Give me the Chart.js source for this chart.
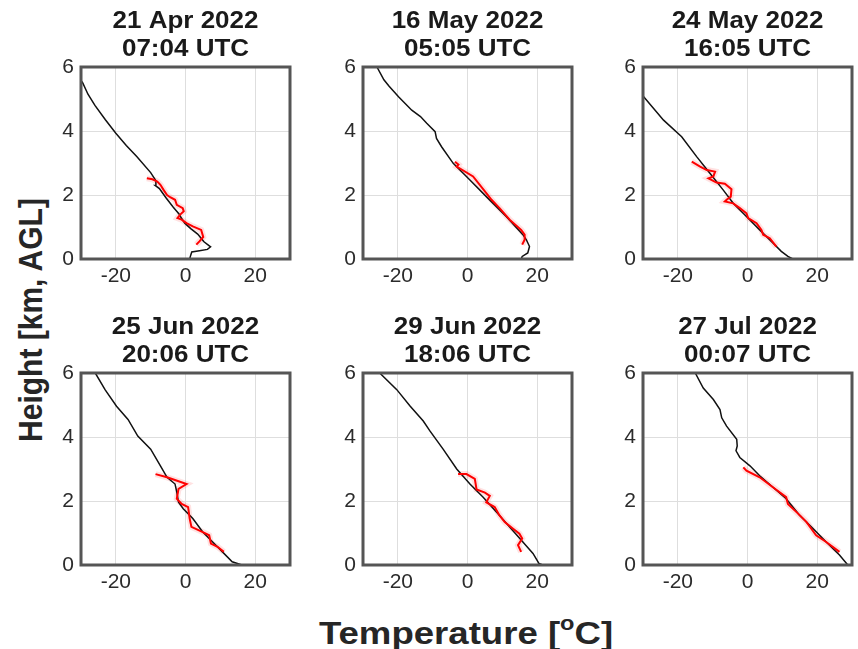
<!DOCTYPE html>
<html>
<head>
<meta charset="utf-8">
<script src="https://cdn.jsdelivr.net/npm/chart.js@4"></script>
<style>
  body { margin: 0; background: #fff; width: 858px; height: 649px; overflow: hidden; position: relative; font-family: 'Liberation Sans', Arial, sans-serif; }
  canvas { position: absolute; }
  .ylab { position: absolute; left: 31px; top: 320px; transform: translate(-50%, -50%) rotate(-90deg) scaleY(1.12); font-weight: bold; font-size: 30px; color: #262626; white-space: nowrap; }
  .xlab { position: absolute; left: 466px; top: 632px; transform: translate(-50%, -50%) scaleX(1.18); font-weight: bold; font-size: 31px; color: #262626; white-space: nowrap; }
  .xlab sup { font-size: 20px; vertical-align: 14px; }
</style>
</head>
<body>
<div class="ylab">Height [km, AGL]</div>
<div class="xlab">Temperature [<sup>o</sup>C]</div>
<script>
// panel titles
const dates = ['21 Apr 2022', '16 May 2022', '24 May 2022', '25 Jun 2022', '29 Jun 2022', '27 Jul 2022'];
const times = ['07:04 UTC', '05:05 UTC', '16:05 UTC', '20:06 UTC', '18:06 UTC', '00:07 UTC'];

// axis ticks
const xTicks = [-20, 0, 20];
const yTicks = [0, 2, 4, 6];

// radiosonde (black) and lidar (red) profiles, temperature [C] vs height [km]
const sondeT1 = [1.2, 1.5, 1.8, 4.0, 6.3, 7.2, 5.3, 3.5, 1.5, -0.2, -1.2, -1.8, -3.5, -5.5, -7.5, -8.7, -8.5, -10.0, -14.0, -17.0, -20.0, -23.0, -26.0, -28.0, -29.5, -30.5];
const sondeH1 = [0.0, 0.12, 0.22, 0.26, 0.3, 0.38, 0.54, 0.78, 0.95, 1.12, 1.28, 1.4, 1.62, 1.9, 2.2, 2.3, 2.45, 2.7, 3.2, 3.55, 3.93, 4.35, 4.8, 5.15, 5.5, 5.65];
const lidarT1 = [3.1, 4.0, 5.1, 4.5, 2.1, 0.3, -1.1, -2.3, -1.6, -0.5, -0.8, -2.5, -3.0, -4.4, -5.3, -6.3, -7.2, -8.1, -9.5, -11.1];
const lidarH1 = [0.45, 0.55, 0.69, 0.91, 1.02, 1.12, 1.23, 1.28, 1.38, 1.49, 1.59, 1.69, 1.85, 1.93, 2.0, 2.16, 2.32, 2.42, 2.49, 2.52];

const sondeT2 = [15.4, 15.7, 17.3, 17.8, 16.9, 15.9, 11.1, 5.4, 0.7, -4.1, -7.4, -8.9, -9.3, -11.7, -13.5, -16.0, -19.8, -22.5, -24.0, -26.0];
const sondeH2 = [0.0, 0.08, 0.19, 0.39, 0.6, 0.76, 1.33, 1.95, 2.47, 2.99, 3.5, 3.77, 3.98, 4.24, 4.45, 4.65, 5.07, 5.4, 5.6, 6.0];
const lidarT2 = [15.7, 16.4, 16.4, 15.4, 12.1, 9.2, 6.9, 5.4, 1.6, -3.1, -2.6, -3.6];
const lidarH2 = [0.45, 0.6, 0.76, 0.91, 1.23, 1.59, 1.85, 2.06, 2.58, 2.89, 2.95, 3.04];

const sondeT3 = [13.0, 11.6, 9.7, 7.3, 3.5, -0.3, -4.1, -7.0, -10.8, -14.6, -18.9, -24.1, -29.8, -31.0];
const sondeH3 = [0.0, 0.08, 0.24, 0.5, 0.91, 1.33, 1.74, 2.16, 2.68, 3.2, 3.82, 4.34, 5.07, 5.2];
const lidarT3 = [8.3, 6.4, 4.5, 4.0, 2.6, 0.2, -0.3, -2.2, -4.1, -6.5, -6.0, -4.8, -4.6, -6.5, -8.9, -11.2, -9.8, -9.3, -11.7, -13.6, -16.0];
const lidarH3 = [0.39, 0.65, 0.76, 0.91, 1.12, 1.28, 1.43, 1.59, 1.74, 1.8, 1.85, 1.95, 2.18, 2.35, 2.39, 2.52, 2.58, 2.73, 2.78, 2.89, 3.04];

const sondeT4 = [16.2, 13.4, 10.6, 7.8, 4.95, 2.1, -0.65, -2.0, -2.5, -3.0, -5.3, -7.2, -10.0, -13.7, -16.5, -19.8, -23.1, -25.9];
const sondeH4 = [0.0, 0.1, 0.41, 0.72, 1.03, 1.45, 1.76, 1.96, 2.28, 2.53, 2.74, 3.1, 3.62, 4.03, 4.55, 4.96, 5.48, 6.0];
const lidarT4 = [11.0, 9.2, 7.3, 6.8, 4.95, 1.7, 1.2, 0.75, -1.1, -2.5, -2.0, 0.3, -5.3, -8.6];
const lidarH4 = [0.41, 0.57, 0.67, 0.93, 1.03, 1.19, 1.45, 1.81, 1.91, 2.07, 2.38, 2.53, 2.74, 2.84];

const sondeT5 = [21.6, 20.5, 18.8, 15.9, 12.1, 8.3, 4.5, 0.7, -3.1, -7.0, -10.8, -12.7, -16.5, -20.3, -25.2];
const sondeH5 = [0.0, 0.05, 0.36, 0.72, 1.19, 1.66, 2.12, 2.53, 3.0, 3.62, 4.19, 4.5, 4.97, 5.48, 6.0];
const lidarT5 = [15.4, 14.5, 15.7, 14.9, 13.0, 10.7, 9.2, 7.8, 5.4, 6.4, 5.0, 2.6, 2.1, -0.3, -2.7];
const lidarH5 = [0.41, 0.62, 0.83, 0.98, 1.14, 1.34, 1.55, 1.81, 1.96, 2.16, 2.26, 2.36, 2.69, 2.84, 2.84];

const sondeT6 = [28.8, 26.4, 22.6, 18.8, 15.0, 11.1, 7.3, 3.5, 0.7, -2.2, -3.3, -2.95, -3.1, -6.0, -7.4, -7.9, -9.8, -12.7, -15.0];
const sondeH6 = [0.0, 0.31, 0.72, 1.14, 1.55, 2.07, 2.43, 2.79, 3.1, 3.36, 3.57, 3.72, 3.93, 4.34, 4.6, 4.86, 5.17, 5.53, 6.0];
const lidarT6 = [26.4, 22.6, 19.7, 16.9, 14.0, 11.6, 11.1, 7.3, 3.5, -0.3, -1.2];
const lidarH6 = [0.41, 0.72, 0.93, 1.35, 1.66, 1.91, 2.12, 2.43, 2.74, 2.95, 3.05];

const sondeT = [sondeT1, sondeT2, sondeT3, sondeT4, sondeT5, sondeT6];
const sondeH = [sondeH1, sondeH2, sondeH3, sondeH4, sondeH5, sondeH6];
const lidarT = [lidarT1, lidarT2, lidarT3, lidarT4, lidarT5, lidarT6];
const lidarH = [lidarH1, lidarH2, lidarH3, lidarH4, lidarH5, lidarH6];

// layout of the 2x3 grid (plot area positions in px)
const colLefts = [81, 363, 643];
const rowTops = [67, 373];
const plotW = 209, plotH = 192;
const yAxisW = 45, titleH = 67, xAxisH = 40, padR = 6;

const font = "'Liberation Sans', Arial, sans-serif";

const toPoints = (xs, ys) => xs.map((x, i) => ({ x: x, y: ys[i] }));

// matlab-style box round the axes plus the two-line panel title
const boxAndTitle = {
    id: 'boxAndTitle',
    afterDraw(chart, args, opts) {
        const { ctx, chartArea: a } = chart;
        ctx.save();
        ctx.strokeStyle = '#555';
        ctx.lineWidth = 3;
        ctx.strokeRect(a.left, a.top, a.right - a.left, a.bottom - a.top);
        ctx.fillStyle = '#1a1a1a';
        ctx.font = 'bold 23px ' + font;
        ctx.textAlign = 'center';
        ctx.textBaseline = 'middle';
        const cx = (a.left + a.right) / 2;
        [[opts.line1, a.top - 45], [opts.line2, a.top - 17]].forEach(([txt, y]) => {
            ctx.save();
            ctx.translate(cx, y);
            ctx.scale(1.13, 1);
            ctx.fillText(txt, 0, 0);
            ctx.restore();
        });
        ctx.restore();
    }
};

for (let i = 0; i < 6; i++) {
    const col = i % 3, row = Math.floor(i / 3);
    const canvas = document.createElement('canvas');
    const w = yAxisW + plotW + padR, h = titleH + plotH + xAxisH;
    canvas.width = w;
    canvas.height = h;
    canvas.style.left = (colLefts[col] - yAxisW) + 'px';
    canvas.style.top = (rowTops[row] - titleH) + 'px';
    document.body.appendChild(canvas);

    const sonde = toPoints(sondeT[i], sondeH[i]);
    const lidar = toPoints(lidarT[i], lidarH[i]);

    new Chart(canvas, {
        type: 'scatter',
        data: {
            datasets: [
                { label: 'lidar spread', data: lidar, showLine: true, pointRadius: 0, borderColor: 'rgba(255, 60, 60, 0.15)', borderWidth: 6, order: 3 },
                { label: 'radiosonde', data: sonde, showLine: true, pointRadius: 0, borderColor: '#111', borderWidth: 1.5, order: 2 },
                { label: 'lidar', data: lidar, showLine: true, pointRadius: 0, borderColor: '#ff0000', borderWidth: 2, order: 1 }
            ]
        },
        plugins: [boxAndTitle],
        options: {
            responsive: false,
            animation: false,
            devicePixelRatio: 1,
            layout: { padding: { top: titleH, right: padR, left: 0, bottom: 0 } },
            plugins: {
                legend: { display: false },
                tooltip: { enabled: false },
                boxAndTitle: { line1: dates[i], line2: times[i] }
            },
            scales: {
                x: {
                    type: 'linear',
                    min: -30,
                    max: 30,
                    afterBuildTicks: s => { s.ticks = xTicks.map(v => ({ value: v })); },
                    afterFit: s => { s.height = xAxisH; },
                    grid: { color: '#dedede', lineWidth: 1, drawTicks: false },
                    border: { display: false },
                    ticks: { color: '#2b2b2b', padding: 5, maxRotation: 0, font: { family: font, size: 21 } }
                },
                y: {
                    type: 'linear',
                    min: 0,
                    max: 6,
                    afterBuildTicks: s => { s.ticks = yTicks.map(v => ({ value: v })); },
                    afterFit: s => { s.width = yAxisW; },
                    grid: { color: '#dedede', lineWidth: 1, drawTicks: false },
                    border: { display: false },
                    ticks: { color: '#2b2b2b', padding: 7, font: { family: font, size: 21 } }
                }
            }
        }
    });
}
</script>
</body>
</html>
